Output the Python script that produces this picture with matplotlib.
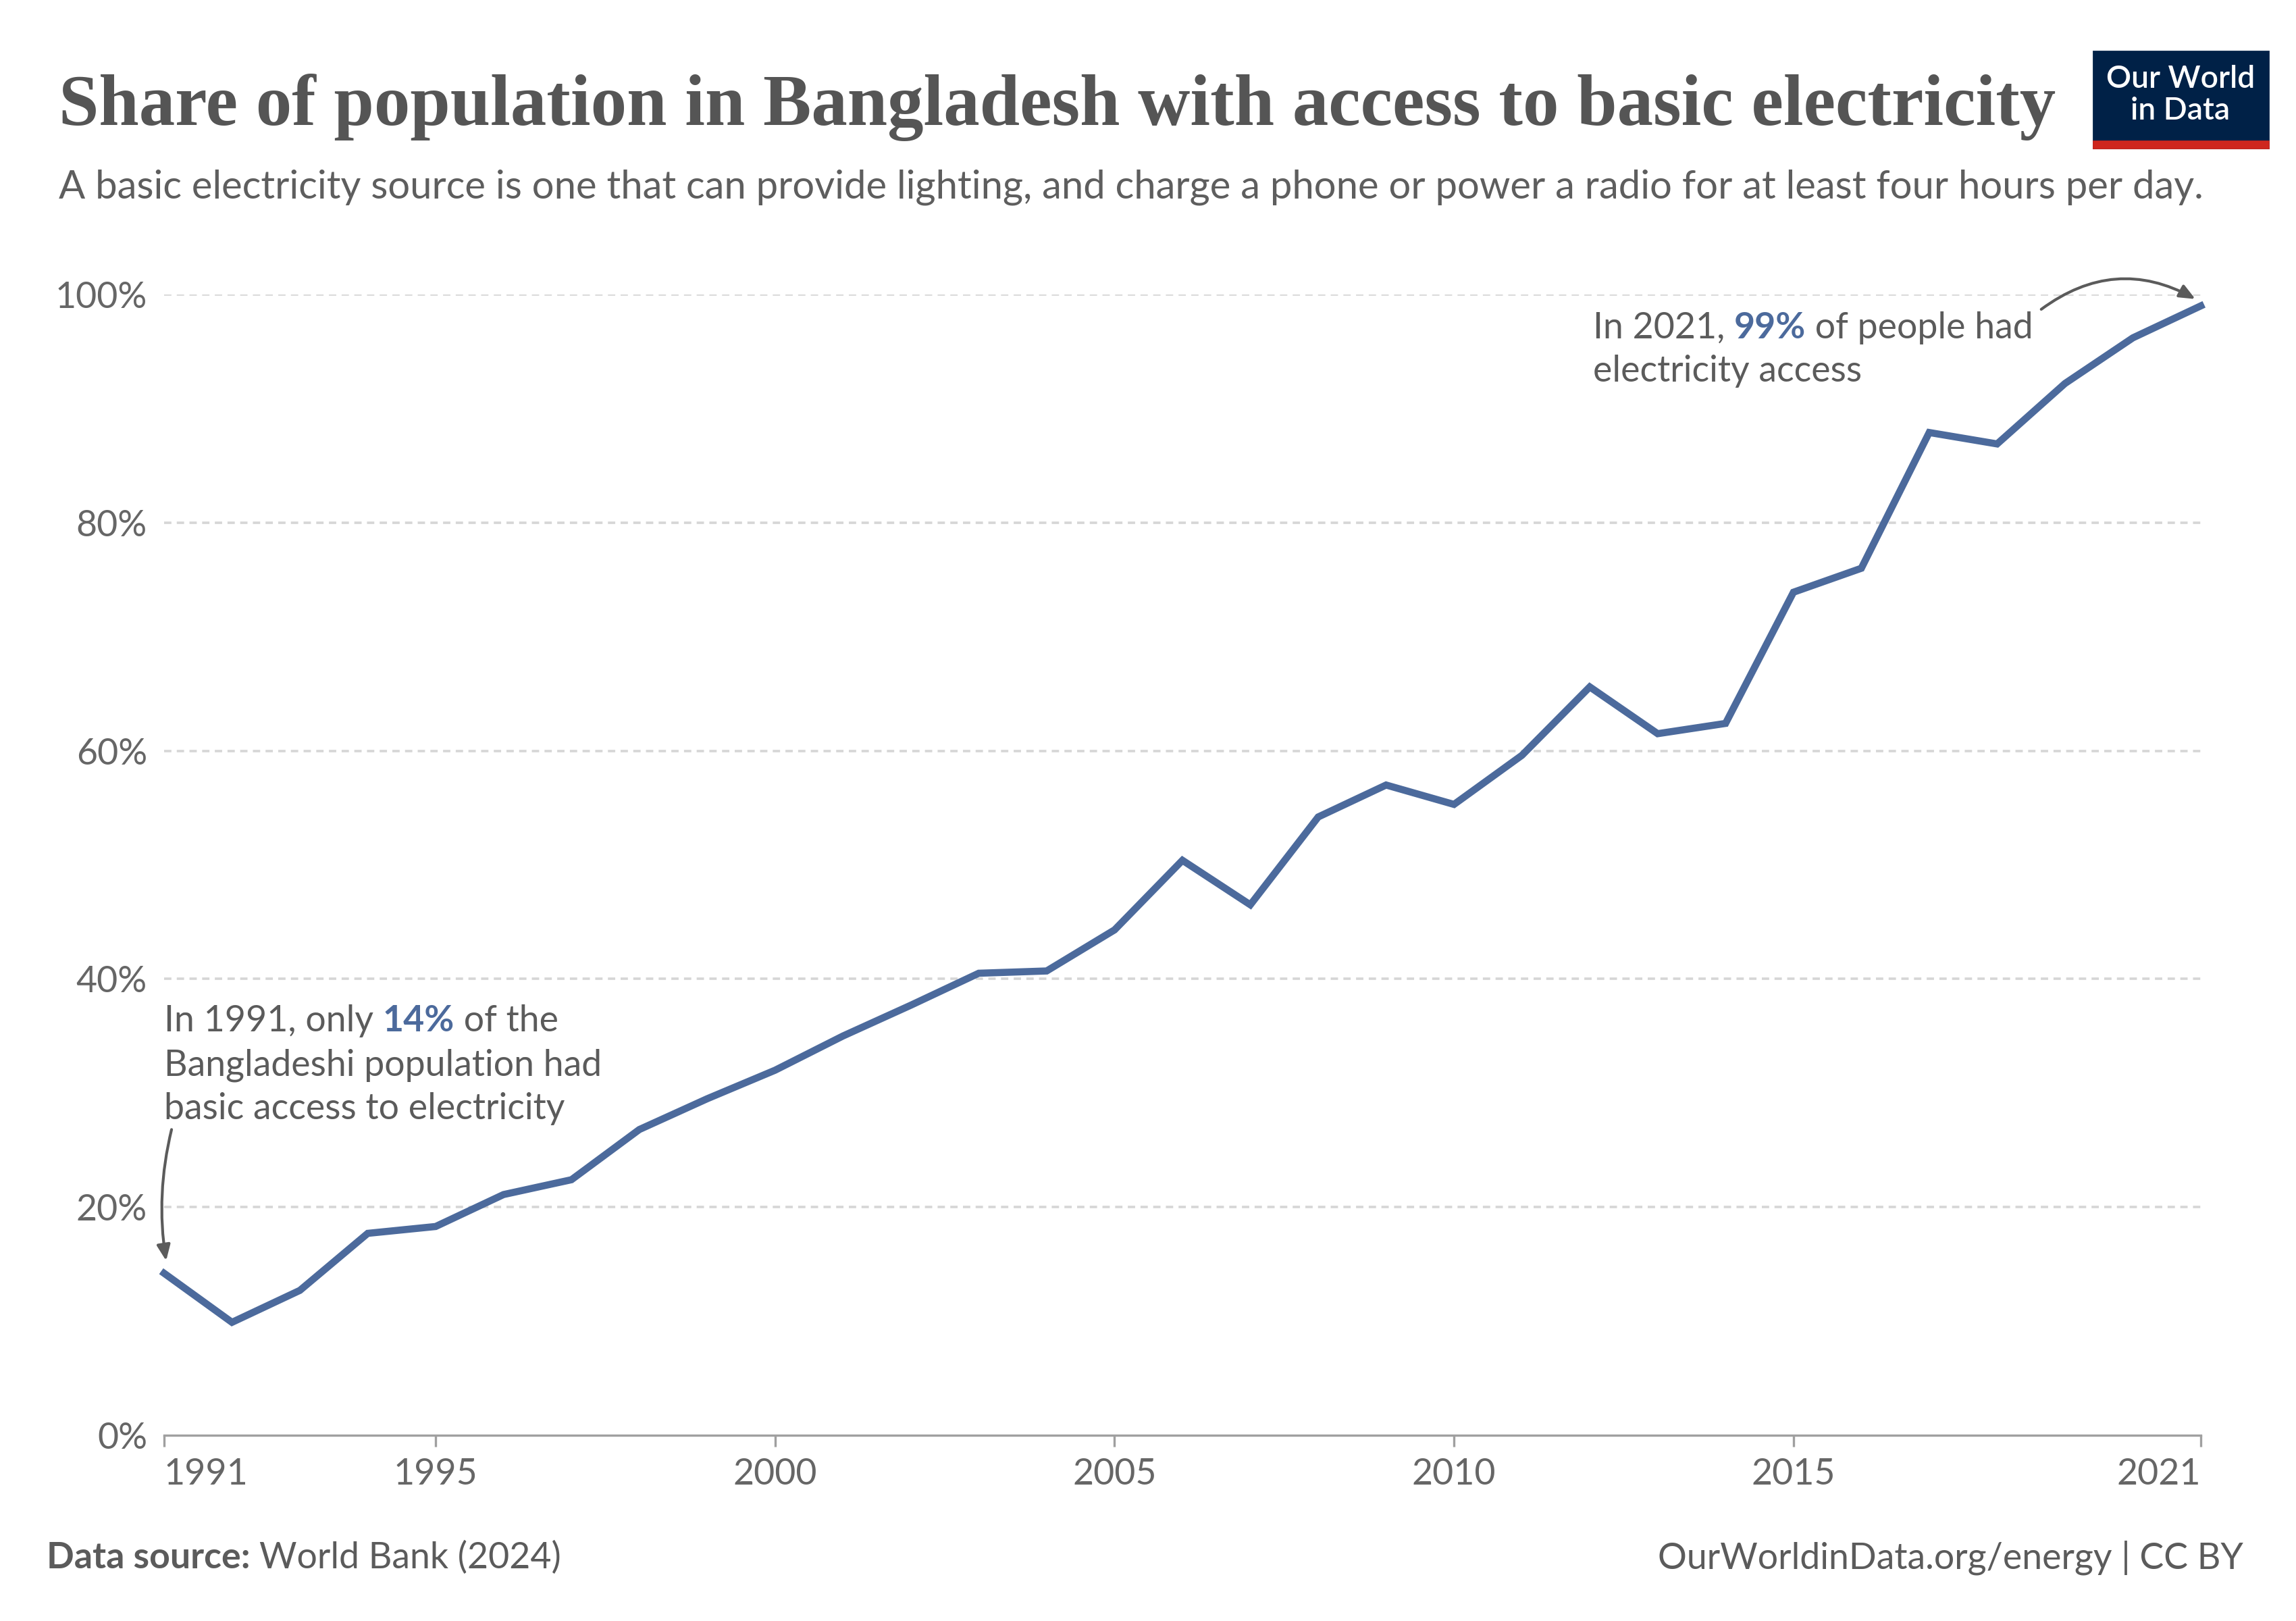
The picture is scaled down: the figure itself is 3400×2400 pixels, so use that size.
import matplotlib
matplotlib.use('Agg')
import matplotlib.pyplot as plt
from matplotlib.patches import Rectangle

# share of population with basic electricity access, Bangladesh (%)
years = list(range(1991, 2022))
access = [14.2, 9.9, 12.7, 17.7, 18.3, 21.1, 22.4, 26.8, 29.5, 32.0,
          35.0, 37.7, 40.5, 40.7, 44.3, 50.4, 46.5, 54.2, 57.0, 55.3,
          59.6, 65.6, 61.5, 62.4, 73.9, 76.0, 87.9, 86.9, 92.2, 96.2, 99.0]

yticks = [0, 20, 40, 60, 80, 100]
ytick_labels = ['0%', '20%', '40%', '60%', '80%', '100%']
xticks = [1991, 1995, 2000, 2005, 2010, 2015, 2021]
xtick_labels = ['1991', '1995', '2000', '2005', '2010', '2015', '2021']

title = 'Share of population in Bangladesh with access to basic electricity'
subtitle = ('A basic electricity source is one that can provide lighting, and charge a phone '
            'or power a radio for at least four hours per day.')

BLUE = '#4c6a9c'
GREY = '#5b5b5b'
W, H = 3400, 2400
FONT = 'Lato'
FS = 19.3


def fx(px):
    return px / W


def fy(py):
    return 1 - py / H


def fit_width(t, target, rend):
    w = t.get_window_extent(rend).width
    t.set_fontsize(t.get_fontsize() * target / w)


def advance(fig, s, size, weight, rend):
    # width incl. trailing spaces
    a = fig.text(0, 0, s + '|', fontsize=size, fontweight=weight, family=FONT)
    b = fig.text(0, 0, '|', fontsize=size, fontweight=weight, family=FONT)
    w = a.get_window_extent(rend).width - b.get_window_extent(rend).width
    a.remove()
    b.remove()
    return w


def rich_line(fig, x, y, parts, size, rend):
    for s, color, weight in parts:
        fig.text(fx(x), fy(y), s, fontsize=size, color=color, fontweight=weight,
                 family=FONT, va='baseline', ha='left')
        x += advance(fig, s, size, weight, rend)


fig = plt.figure(figsize=(17, 12), dpi=200)
rend = fig.canvas.get_renderer()

ax = fig.add_axes([fx(243), fy(2125), (3259 - 243) / W, (2125 - 436) / H])
ax.plot(years, access, color=BLUE, lw=3.8, clip_on=False, solid_joinstyle='miter')
ax.set_xlim(1991, 2021)
ax.set_ylim(0, 100)

for v in yticks[1:]:
    ax.axhline(v, color='#d6d6d6', lw=1.3, ls=(0, (3, 2.2)), zorder=0)

for s in ['top', 'right', 'left']:
    ax.spines[s].set_visible(False)
ax.spines['bottom'].set_color('#a0a0a0')
ax.spines['bottom'].set_linewidth(1.2)

ax.set_yticks(yticks)
ax.set_yticklabels(ytick_labels, family=FONT, fontsize=FS, color='#666666')
ax.tick_params(axis='y', length=0, pad=9)
ax.set_xticks(xticks)
ax.set_xticklabels(xtick_labels, family=FONT, fontsize=FS, color='#666666')
ax.tick_params(axis='x', length=6, width=1.2, color='#a0a0a0', pad=6)
lbls = ax.get_xticklabels()
lbls[0].set_ha('left')
lbls[-1].set_ha('right')

# annotations
rich_line(fig, 243, 1527, [('In 1991, only ', GREY, 'normal'), ('14%', BLUE, 'bold'),
                           (' of the', GREY, 'normal')], FS, rend)
rich_line(fig, 243, 1592, [('Bangladeshi population had', GREY, 'normal')], FS, rend)
rich_line(fig, 243, 1657, [('basic access to electricity', GREY, 'normal')], FS, rend)
ax.annotate('', xy=(1991.03, 15.3), xytext=(1991.11, 26.8),
            arrowprops=dict(arrowstyle='-|>,head_length=0.7,head_width=0.3', color=GREY, lw=1.5,
                            connectionstyle='arc3,rad=0.1', shrinkA=0, shrinkB=0))

rich_line(fig, 2359, 501, [('In 2021, ', GREY, 'normal'), ('99%', BLUE, 'bold'),
                           (' of people had', GREY, 'normal')], FS, rend)
rich_line(fig, 2359, 565, [('electricity access', GREY, 'normal')], FS, rend)
ax.annotate('', xy=(2020.92, 99.6), xytext=(2018.65, 98.7),
            arrowprops=dict(arrowstyle='-|>,head_length=0.7,head_width=0.3', color=GREY, lw=1.5,
                            connectionstyle='arc3,rad=-0.32', shrinkA=0, shrinkB=0),
            annotation_clip=False)

# header
t = fig.text(fx(87), fy(185), title, family='Liberation Serif', fontweight='bold',
             fontsize=36, color='#555555', va='baseline')
fit_width(t, 2955, rend)
t = fig.text(fx(87), fy(293), subtitle, family=FONT, fontsize=19, color='#5e5e5e', va='baseline')
fit_width(t, 3180, rend)

# logo
fig.patches.append(Rectangle((fx(3100), fy(219)), 259 / W, (219 - 76) / H,
                             transform=fig.transFigure, color='#002147', zorder=0))
fig.patches.append(Rectangle((fx(3100), fy(219)), 259 / W, 10 / H,
                             transform=fig.transFigure, color='#ce261e', zorder=1))
t = fig.text(fx(3229), fy(117), 'Our World', family=FONT, fontweight='semibold',
             fontsize=14, color='white', ha='center', va='center')
fit_width(t, 220, rend)
fig.text(fx(3229), fy(164), 'in Data', family=FONT, fontweight='semibold',
         fontsize=t.get_fontsize(), color='white', ha='center', va='center')

# footer
rich_line(fig, 69, 2322, [('Data source: ', GREY, 'bold'), ('World Bank (2024)', GREY, 'normal')],
          FS, rend)
fig.text(fx(3322), fy(2322), 'OurWorldinData.org/energy | CC BY', family=FONT, fontsize=FS,
         color=GREY, ha='right', va='baseline')

fig.savefig('out.png', dpi=200, facecolor='white')
